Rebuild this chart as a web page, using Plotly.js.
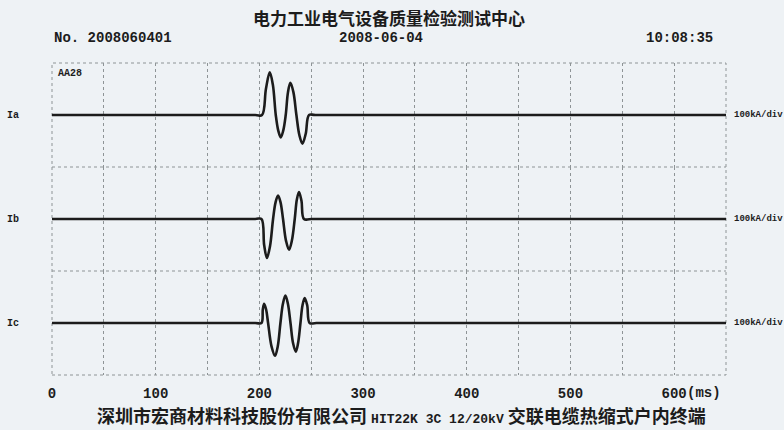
<!DOCTYPE html>
<html><head><meta charset="utf-8">
<script src="https://cdn.plot.ly/plotly-3.0.1.min.js"></script>
<style>html,body{margin:0;padding:0;background:#eef2f5}</style>
</head><body><div id="chart" style="width:784px;height:430px"></div>
<script>
// time in ms, current in kA (100 kA/div)
const timeIa = [0, 196, 202.5, 206.3, 210, 213, 215.8, 218.2, 220.6, 223, 225.4, 227.6, 229.9, 232.8, 235.7, 238.6, 241.5, 244.7, 247.9, 254, 650];
const valIa  = [0, 0, 0, 50, 82, 58, 0, -30, -43, -30, 0, 44, 62, 44, 0, -39, -55, -36, 0, 0, 0];
const timeIb = [0, 196, 202, 204.6, 207.3, 210.2, 213.2, 215.6, 218, 220.4, 222.8, 225.7, 228.6, 231.3, 234.1, 236.1, 238.2, 240.6, 243, 250, 650];
const valIb  = [0, 0, 0, -50, -75, -53, 0, 32, 45, 32, 0, -42, -59, -42, 0, 37, 52, 35, 0, 0, 0];
const timeIc = [0, 196, 202, 203.3, 204.6, 206.5, 208.4, 211.7, 215.1, 217.7, 220.3, 222.7, 225.1, 227.5, 230, 232.5, 235.1, 237.3, 239.6, 241.6, 243.7, 246.1, 248.5, 255, 650];
const valIc  = [0, 0, 0, 26, 37, 26, 0, -45, -63, -45, 0, 37, 53, 37, 0, -39, -55, -39, 0, 34, 48, 34, 0, 0, 0];

const channelLabels = ['Ia', 'Ib', 'Ic'];
const scaleLabel = '100kA/div';
const xTickVals = [0, 50, 100, 150, 200, 250, 300, 350, 400, 450, 500, 550, 600, 650];
const xTickText = ['0', '', '100', '', '200', '', '300', '', '400', '', '500', '', '600', ''];
const titleText = '电力工业电气设备质量检验测试中心';
const recordNo = 'No. 2008060401';
const recordDate = '2008-06-04';
const recordTime = '10:08:35';
const cornerTag = 'AA28';
const unitText = '(ms)';
const footerA = '深圳市宏商材料科技股份有限公司';
const footerB = 'HIT22K 3C 12/20kV';
const footerC = '交联电缆热缩式户内终端';

const times = [timeIa, timeIb, timeIc];
const vals = [valIa, valIb, valIc];
const yNames = ['y', 'y2', 'y3'];

const ink = '#1c1c1c';
const gridC = '#8e9496';
const mono = 'Liberation Mono, DejaVu Sans Mono, monospace';
const cjk = 'Noto Sans CJK SC, sans-serif';

const traces = times.map((t, i) => ({
  x: t, y: vals[i], xaxis: 'x', yaxis: yNames[i],
  type: 'scatter', mode: 'lines',
  line: {color: ink, width: 2.6, shape: 'spline', smoothing: 1},
  hoverinfo: 'skip', showlegend: false
}));

const yAx = d => ({domain: d, range: [-100, 100], showgrid: false, zeroline: false,
  showticklabels: false, ticks: '', showline: false, fixedrange: true});

const annotations = [
  {text: titleText, xref: 'paper', yref: 'paper', x: 0.5, y: 1, yshift: 46, showarrow: false,
   yanchor: 'middle', font: {family: cjk, size: 17, color: ink, weight: 'bold'}},
  {text: recordNo, xref: 'paper', yref: 'paper', x: 0, y: 1, yshift: 25, xanchor: 'left', yanchor: 'middle',
   showarrow: false, font: {family: mono, size: 14, color: ink, weight: 'bold'}},
  {text: recordDate, xref: 'paper', yref: 'paper', x: 0.488, y: 1, yshift: 25, xanchor: 'center', yanchor: 'middle',
   showarrow: false, font: {family: mono, size: 14, color: ink, weight: 'bold'}},
  {text: recordTime, xref: 'paper', yref: 'paper', x: 0.984, y: 1, yshift: 25, xanchor: 'right', yanchor: 'middle',
   showarrow: false, font: {family: mono, size: 14, color: ink, weight: 'bold'}},
  {text: cornerTag, xref: 'paper', yref: 'paper', x: 0.006, y: 1, yshift: -10, xanchor: 'left', yanchor: 'middle',
   showarrow: false, font: {family: mono, size: 10, color: ink, weight: 'bold'}},
  {text: unitText, xref: 'x', yref: 'paper', x: 600, y: 0, xshift: 11, yshift: -18, xanchor: 'left', yanchor: 'middle',
   showarrow: false, font: {family: mono, size: 14, color: ink, weight: 'bold'}},
  {text: footerA + ' <span style="font-family:Liberation Mono;font-size:13px">' + footerB + '</span> ' + footerC,
   xref: 'paper', yref: 'paper', x: 0.519, y: 0, yshift: -40, xanchor: 'center', yanchor: 'middle',
   showarrow: false, font: {family: cjk, size: 18, color: ink, weight: 'bold'}}
];
channelLabels.forEach((lab, i) => {
  annotations.push({text: lab, xref: 'paper', yref: yNames[i], x: -0.058, y: 0, xanchor: 'center', yanchor: 'middle',
    showarrow: false, font: {family: mono, size: 10, color: ink, weight: 'bold'}});
  annotations.push({text: scaleLabel, xref: 'paper', yref: yNames[i], x: 1.009, y: 0, xanchor: 'left', yanchor: 'middle',
    showarrow: false, font: {family: mono, size: 9, color: ink, weight: 'bold'}});
});

const dotLine = {color: gridC, width: 1, dash: 'dot'};
const shapes = [
  {type: 'rect', xref: 'paper', yref: 'paper', x0: 0, x1: 1, y0: 0, y1: 1, line: dotLine, layer: 'below'},
  {type: 'line', xref: 'paper', yref: 'paper', x0: 0, x1: 1, y0: 1/3, y1: 1/3, line: dotLine, layer: 'below'},
  {type: 'line', xref: 'paper', yref: 'paper', x0: 0, x1: 1, y0: 2/3, y1: 2/3, line: dotLine, layer: 'below'}
];

const layout = {
  width: 784, height: 430,
  margin: {l: 52, r: 58, t: 63, b: 55, pad: 0},
  paper_bgcolor: '#eef2f5', plot_bgcolor: '#eef2f5',
  showlegend: false,
  xaxis: {domain: [0, 1], range: [0, 650], anchor: 'y3', tickmode: 'array', tickvals: xTickVals, ticktext: xTickText,
    showgrid: true, gridcolor: gridC, griddash: 'dot', gridwidth: 1, zeroline: false, showline: false, ticks: '',
    ticklabelstandoff: 8, tickfont: {family: mono, size: 14, color: ink, weight: 'bold'}, fixedrange: true},
  yaxis: yAx([2/3, 1]),
  yaxis2: yAx([1/3, 2/3]),
  yaxis3: yAx([0, 1/3]),
  annotations: annotations,
  shapes: shapes
};

Plotly.newPlot('chart', traces, layout, {displayModeBar: false, staticPlot: true});
</script></body></html>
